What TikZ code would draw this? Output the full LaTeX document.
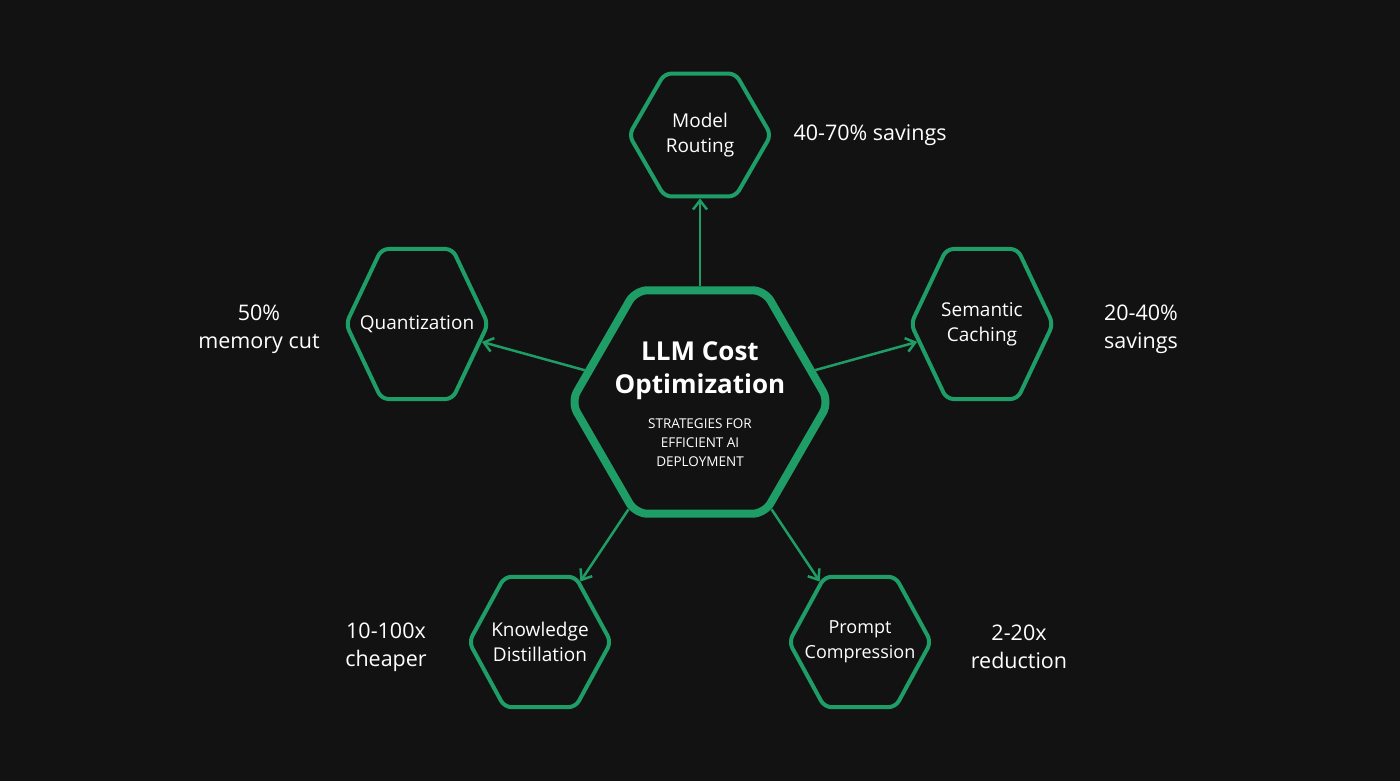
\documentclass[tikz,border=0pt]{standalone}
\usepackage{fontspec}
\setmainfont{Open Sans}
\usetikzlibrary{shapes.geometric,arrows.meta}
\definecolor{bgdark}{HTML}{121212}
\definecolor{hexgreen}{HTML}{1E9E66}
\tikzset{
  hexbox/.style={regular polygon, regular polygon sides=6, minimum size=142pt,
    draw=hexgreen, line width=4pt, rounded corners=7pt, inner sep=0pt},
  tall/.style={yscale=#1, transform shape},
  hexmain/.style={hexbox, minimum size=258pt, line width=8pt, rounded corners=12pt},
  hextext/.style={text=white, align=center, font=\fontsize{19}{25}\selectfont},
  gain/.style={text=white, align=center, font=\fontsize{21.5}{28}\selectfont},
  link/.style={draw=hexgreen, line width=2.5pt, -{Straight Barb[length=9pt,width=14pt]}}
}
\begin{document}
\begin{tikzpicture}[x=1pt,y=-1pt]
\fill[bgdark] (0,0) rectangle (1400,781);
\useasboundingbox (0,0) rectangle (1400,781);

% hub
\node[hexmain] (hub) at (700,402) {};
\node[text=white, align=center, font=\bfseries\fontsize{26}{33}\selectfont] (hubtitle) at (700,371) {LLM Cost\\Optimization};
\node[text=white, align=center, font=\fontsize{13.5}{19}\selectfont] (hubsub) at (700,443) {STRATEGIES FOR\\EFFICIENT AI\\DEPLOYMENT};

% strategies
\node[hexbox] (routing) at (700,135) {};
\node[hexbox, tall=1.22] (caching) at (982,324) {};
\node[hexbox, tall=1.22] (quant) at (417,324) {};
\node[hexbox, tall=1.06] (distill) at (540,642) {};
\node[hexbox, tall=1.06] (compress) at (860,642) {};
\node[hextext] (routingtext) at (routing) {Model\\Routing};
\node[hextext] (cachingtext) at (caching) {Semantic\\Caching};
\node[hextext] (quanttext) at (quant) {Quantization};
\node[hextext] (distilltext) at (distill) {Knowledge\\Distillation};
\node[hextext, font=\fontsize{18}{25}\selectfont] (compresstext) at (compress) {Prompt\\Compression};

% savings
\node[gain, anchor=west] (routinggain) at (790,135) {40-70\% savings};
\node[gain] (cachinggain) at (1141,329) {20-40\%\\savings};
\node[gain] (quantgain) at (259,329) {50\%\\memory cut};
\node[gain] (distillgain) at (386,647) {10-100x\\cheaper};
\node[gain] (compressgain) at (1019,647) {2-20x\\reduction};

% links
\draw[link] (hub) -- (routing);
\draw[link] (hub) -- (caching);
\draw[link] (hub) -- (quant);
\draw[link] (hub) -- (distill);
\draw[link] (hub) -- (compress);
\end{tikzpicture}
\end{document}
